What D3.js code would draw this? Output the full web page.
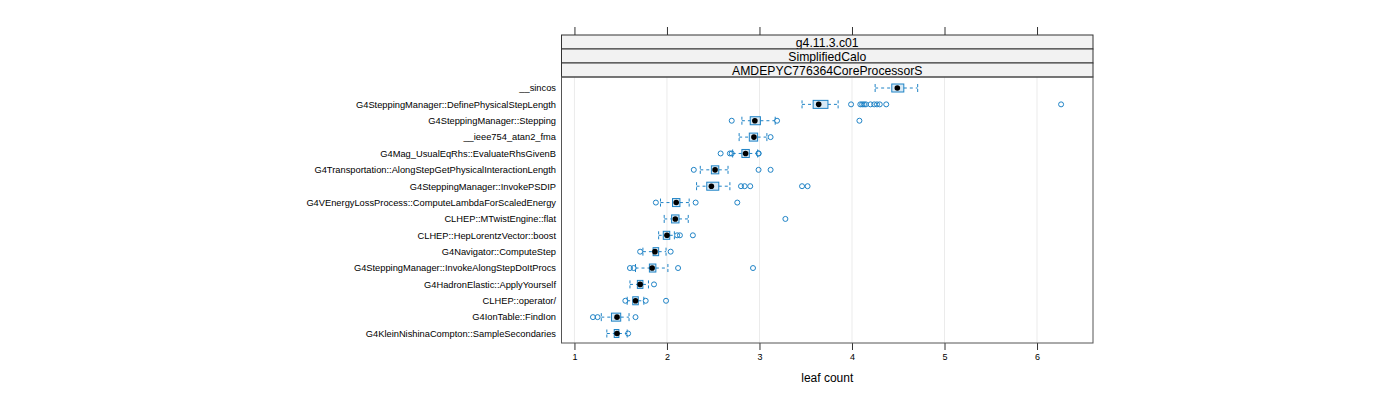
<!DOCTYPE html>
<html><head><meta charset="utf-8">
<script src="https://cdn.jsdelivr.net/npm/d3@7"></script>
<style>body{margin:0;background:#fff;} svg{display:block;font-family:"Liberation Sans",Arial,sans-serif;}</style>
</head><body><svg id="c" width="1400" height="400"></svg>
<script>
const categories = ["__sincos","G4SteppingManager::DefinePhysicalStepLength","G4SteppingManager::Stepping","__ieee754_atan2_fma","G4Mag_UsualEqRhs::EvaluateRhsGivenB","G4Transportation::AlongStepGetPhysicalInteractionLength","G4SteppingManager::InvokePSDIP","G4VEnergyLossProcess::ComputeLambdaForScaledEnergy","CLHEP::MTwistEngine::flat","CLHEP::HepLorentzVector::boost","G4Navigator::ComputeStep","G4SteppingManager::InvokeAlongStepDoItProcs","G4HadronElastic::ApplyYourself","CLHEP::operator/","G4IonTable::FindIon","G4KleinNishinaCompton::SampleSecondaries"];
const whiskerLow = [4.25,3.46,2.81,2.78,2.71,2.36,2.32,1.93,1.97,1.91,1.74,1.66,1.60,1.57,1.29,1.35];
const q1 =        [4.43,3.58,2.90,2.89,2.81,2.48,2.43,2.06,2.05,1.96,1.85,1.81,1.68,1.63,1.40,1.43];
const medians =   [4.49,3.64,2.95,2.94,2.85,2.52,2.48,2.10,2.09,2.00,1.87,1.84,1.71,1.66,1.46,1.46];
const q3 =        [4.56,3.74,3.01,2.98,2.89,2.56,2.56,2.14,2.13,2.03,1.91,1.88,1.74,1.69,1.50,1.48];
const whiskerHigh=[4.71,3.85,3.17,3.08,2.98,2.66,2.68,2.24,2.23,2.08,1.99,2.01,1.80,1.75,1.59,1.57];
const outliers = [
  [],
  [3.99,4.09,4.11,4.13,4.15,4.20,4.24,4.27,4.30,4.37,6.26],
  [2.70,3.19,4.08],
  [3.12],
  [2.58,2.68,2.70,2.99,2.99],
  [2.29,2.99,3.12],
  [2.80,2.84,2.90,3.46,3.52],
  [1.88,2.31,2.76],
  [3.28],
  [2.11,2.14,2.28],
  [1.71,2.04],
  [1.60,1.64,2.12,2.93],
  [1.86],
  [1.55,1.77,1.99],
  [1.20,1.25,1.66],
  [1.58]
];
const xTicks = [1,2,3,4,5,6];
const strips = ["g4.11.3.c01","SimplifiedCalo","AMDEPYC776364CoreProcessorS"];
const xTitle = "leaf count";

const svg = d3.select("#c");
const L = 561.5, R = 1093, T = 77, B = 343, stripH = 14;
const x = d3.scaleLinear().domain([0.86, 6.605]).range([L, R]);
const y = d3.scalePoint().domain(categories).range([88, 333.5]);
const blue = "#1f83c6";
const boxH = 8;

// grid
svg.append("g").selectAll("line").data(xTicks).join("line")
  .attr("x1", d=>x(d)).attr("x2", d=>x(d)).attr("y1", T).attr("y2", B)
  .attr("stroke", "#ebebeb").attr("stroke-width", 1);

// top & bottom axes
const axB = svg.append("g").attr("transform", `translate(0,${B})`)
  .call(d3.axisBottom(x).tickValues(xTicks).tickSize(7).tickPadding(4).tickFormat(d3.format("d")));
axB.select(".domain").remove();
axB.selectAll("line").attr("stroke", "#333");
axB.selectAll("text").attr("font-size", 9).attr("fill", "#000").attr("font-family", "Liberation Sans, Arial, sans-serif");
const axT = svg.append("g").attr("transform", `translate(0,${T - 3*stripH})`)
  .call(d3.axisTop(x).tickValues(xTicks).tickSize(8).tickFormat(""));
axT.select(".domain").remove();
axT.selectAll("line").attr("stroke", "#333");

// strips
strips.forEach((s, i) => {
  const yy = T - 3*stripH + i*stripH;
  svg.append("rect").attr("x", L).attr("y", yy).attr("width", R-L).attr("height", stripH)
    .attr("fill", "#f2f2f2").attr("stroke", "#333").attr("stroke-width", 1);
  svg.append("text").attr("x", (L+R)/2).attr("y", yy + stripH/2 + 4.5).attr("text-anchor", "middle")
    .attr("font-size", 12.2).attr("fill", "#000").text(s);
});

// panel border
svg.append("rect").attr("x", L).attr("y", T).attr("width", R-L).attr("height", B-T)
  .attr("fill", "none").attr("stroke", "#555").attr("stroke-width", 1);

// y labels
svg.append("g").selectAll("text").data(categories).join("text")
  .attr("x", 556).attr("y", d=>y(d)+3.3).attr("text-anchor", "end")
  .attr("font-size", 9.3).attr("fill", "#000").text(d=>d);

// boxes
const rows = categories.map((c,i)=>({c, lo:whiskerLow[i], q1:q1[i], m:medians[i], q3:q3[i], hi:whiskerHigh[i], out:outliers[i]}));
const g = svg.append("g");
rows.forEach(r => {
  const cy = y(r.c);
  [[r.lo, r.q1],[r.q3, r.hi]].forEach(([a,b]) => {
    g.append("line").attr("x1", x(a)).attr("x2", x(b)).attr("y1", cy).attr("y2", cy)
      .attr("stroke", blue).attr("stroke-width", 1).attr("stroke-dasharray", "3,3");
  });
  [r.lo, r.hi].forEach(v => {
    g.append("line").attr("x1", x(v)).attr("x2", x(v)).attr("y1", cy-boxH/2).attr("y2", cy+boxH/2)
      .attr("stroke", blue).attr("stroke-width", 1).attr("stroke-dasharray", "3,2");
  });
  g.append("rect").attr("x", x(r.q1)).attr("y", cy-boxH/2).attr("width", x(r.q3)-x(r.q1)).attr("height", boxH)
    .attr("fill", "rgba(31,131,198,0.18)").attr("stroke", blue).attr("stroke-width", 1);
  g.append("circle").attr("cx", x(r.m)).attr("cy", cy).attr("r", 2.8).attr("fill", "#000");
  r.out.forEach(v => {
    g.append("circle").attr("cx", x(v)).attr("cy", cy).attr("r", 2.5)
      .attr("fill", "none").attr("stroke", blue).attr("stroke-width", 1);
  });
});

svg.append("text").attr("x", (L+R)/2).attr("y", 382).attr("text-anchor", "middle")
  .attr("font-size", 12).attr("fill", "#000").text(xTitle);
</script></body></html>
